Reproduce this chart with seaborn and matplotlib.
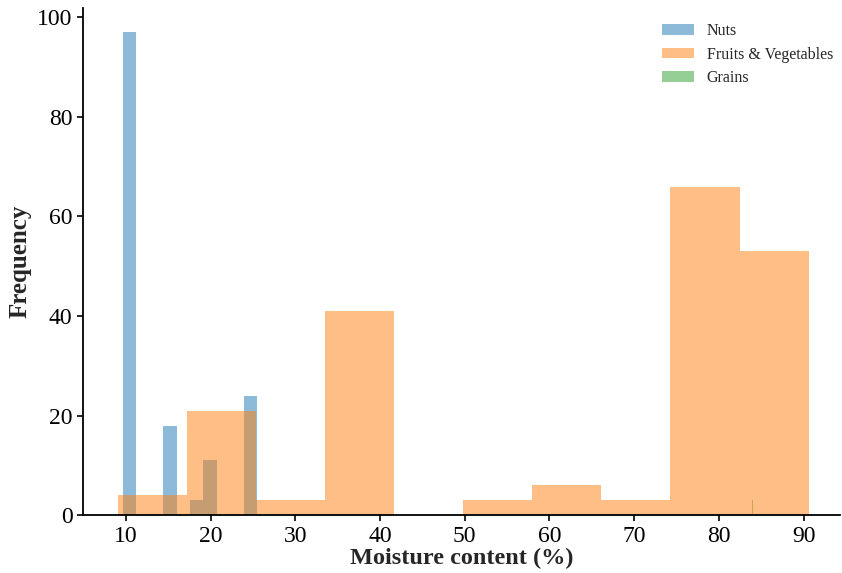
import numpy as np
import pandas as pd
import seaborn as sns
import matplotlib
matplotlib.use("Agg")
import matplotlib.pyplot as plt
from matplotlib.patches import Patch

# ---- data ----
series_names = ["Nuts", "Fruits & Vegetables", "Grains"]

nuts_edges = [9.6, 11.19, 12.78, 14.37, 15.96, 17.55, 19.14, 20.73, 22.32, 23.91, 25.5]
nuts_counts = [97, 0, 0, 18, 0, 3, 11, 0, 0, 24]

fv_edges = [9.0, 17.16, 25.32, 33.48, 41.64, 49.8, 57.96, 66.12, 74.28, 82.44, 90.6]
fv_counts = [4, 21, 3, 41, 0, 3, 6, 3, 66, 53]

grains_edges = [83.95, 84.07]
grains_counts = [3]

x_ticks = [10, 20, 30, 40, 50, 60, 70, 80, 90]
y_ticks = [0, 20, 40, 60, 80, 100]

sns.set_style("ticks")
plt.rcParams["font.family"] = ["Liberation Serif", "DejaVu Serif"]

fig = plt.figure(figsize=(8.42, 5.73), dpi=100)
ax = fig.add_axes([0.0986, 0.101, 0.899, 0.885])

palette = dict(zip(series_names, sns.color_palette("tab10", 3)))

def centers(edges):
    e = np.asarray(edges, dtype=float)
    return (e[:-1] + e[1:]) / 2

# drawing order: Nuts, Grains, then Fruits & Vegetables on top
draw = [
    ("Nuts", nuts_edges, nuts_counts),
    ("Grains", grains_edges, grains_counts),
    ("Fruits & Vegetables", fv_edges, fv_counts),
]
for name, edges, counts in draw:
    df = pd.DataFrame({"x": centers(edges), "w": counts})
    sns.histplot(data=df, x="x", weights="w", bins=edges, ax=ax,
                 color=palette[name], alpha=0.5, linewidth=0)

ax.set_xticks(x_ticks)
ax.set_yticks(y_ticks)
ax.set_xlim(4.92, 94.3)
ax.set_ylim(0, 101.85)
ax.tick_params(axis="both", labelsize=17, length=4, width=1.2, color="black", labelcolor="black")
for s in ["left", "bottom"]:
    ax.spines[s].set_linewidth(1.3)
    ax.spines[s].set_color("black")
sns.despine(ax=ax)

ax.set_xlabel("Moisture content (%)", fontsize=17.5, fontweight="bold", labelpad=1)
ax.set_ylabel("Frequency", fontsize=18, fontweight="bold", labelpad=4)

handles = [Patch(facecolor=palette[n], alpha=0.5, linewidth=0) for n in series_names]
ax.legend(handles, series_names, loc="upper right", frameon=False, fontsize=11.5,
          handlelength=2.0, handleheight=0.65, handletextpad=0.8,
          labelspacing=0.45, bbox_to_anchor=(1.01, 0.998))

fig.savefig("out.png", dpi=100)
